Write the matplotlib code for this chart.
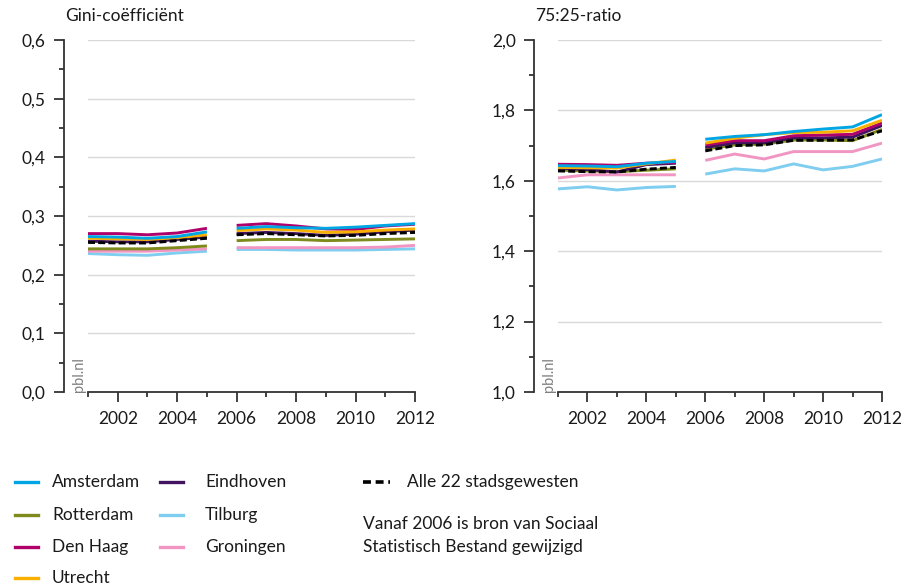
import matplotlib
matplotlib.use("Agg")
import matplotlib.pyplot as plt
from matplotlib.lines import Line2D
from matplotlib.ticker import FuncFormatter, MultipleLocator

plt.rcParams['font.family'] = ['Lato', 'DejaVu Sans']

years = [2001, 2002, 2003, 2004, 2005, 2006, 2007, 2008, 2009, 2010, 2011, 2012]
cities = ["Amsterdam", "Rotterdam", "Den Haag", "Utrecht", "Eindhoven", "Tilburg", "Groningen",
          "Alle 22 stadsgewesten"]

gini_amsterdam = [0.265, 0.264, 0.262, 0.265, 0.273, 0.279, 0.282, 0.280, 0.279, 0.281, 0.284, 0.287]
gini_rotterdam = [0.244, 0.244, 0.244, 0.246, 0.249, 0.258, 0.260, 0.260, 0.258, 0.259, 0.260, 0.261]
gini_denhaag = [0.270, 0.270, 0.268, 0.271, 0.279, 0.284, 0.287, 0.283, 0.278, 0.277, 0.283, 0.286]
gini_utrecht = [0.262, 0.261, 0.260, 0.263, 0.268, 0.275, 0.278, 0.276, 0.272, 0.273, 0.276, 0.278]
gini_eindhoven = [0.257, 0.256, 0.256, 0.260, 0.264, 0.270, 0.272, 0.270, 0.267, 0.269, 0.273, 0.276]
gini_tilburg = [0.236, 0.234, 0.233, 0.237, 0.240, 0.243, 0.243, 0.242, 0.242, 0.242, 0.243, 0.244]
gini_groningen = [0.240, 0.240, 0.240, 0.242, 0.244, 0.246, 0.246, 0.246, 0.246, 0.246, 0.247, 0.250]
gini_alle = [0.255, 0.254, 0.254, 0.258, 0.262, 0.268, 0.270, 0.268, 0.266, 0.267, 0.270, 0.272]

ratio_amsterdam = [1.643, 1.642, 1.640, 1.650, 1.655, 1.718, 1.726, 1.731, 1.740, 1.747, 1.753, 1.788]
ratio_rotterdam = [1.630, 1.628, 1.626, 1.630, 1.634, 1.690, 1.702, 1.704, 1.716, 1.716, 1.714, 1.746]
ratio_denhaag = [1.647, 1.646, 1.644, 1.650, 1.652, 1.702, 1.714, 1.714, 1.728, 1.730, 1.732, 1.764]
ratio_utrecht = [1.638, 1.637, 1.636, 1.648, 1.659, 1.707, 1.721, 1.731, 1.737, 1.738, 1.742, 1.772]
ratio_eindhoven = [1.636, 1.632, 1.625, 1.646, 1.650, 1.695, 1.708, 1.708, 1.722, 1.722, 1.724, 1.757]
ratio_tilburg = [1.577, 1.583, 1.574, 1.581, 1.584, 1.619, 1.634, 1.628, 1.648, 1.631, 1.641, 1.662]
ratio_groningen = [1.608, 1.617, 1.617, 1.617, 1.617, 1.658, 1.676, 1.662, 1.683, 1.683, 1.683, 1.707]
ratio_alle = [1.628, 1.626, 1.625, 1.633, 1.638, 1.685, 1.700, 1.702, 1.715, 1.715, 1.716, 1.742]

gini = [gini_amsterdam, gini_rotterdam, gini_denhaag, gini_utrecht, gini_eindhoven,
        gini_tilburg, gini_groningen, gini_alle]
ratio = [ratio_amsterdam, ratio_rotterdam, ratio_denhaag, ratio_utrecht, ratio_eindhoven,
         ratio_tilburg, ratio_groningen, ratio_alle]

colors = ["#00a6e3", "#7f8a1c", "#b0006a", "#f9b000", "#42145f", "#7fcdef", "#f196c2", "#000000"]
draw_order = [5, 6, 1, 4, 2, 3, 0, 7]
split = 5  # break in source after 2005

fig = plt.figure(figsize=(9.02, 5.88), dpi=100)
W, H = 902, 588
FS = 12.5


def make_axes(x0, x1, y0, y1):
    return fig.add_axes([x0 / W, 1 - y1 / H, (x1 - x0) / W, (y1 - y0) / H])


ax1 = make_axes(88, 415, 40, 392)
ax2 = make_axes(558, 882, 40, 392)

spine_col = "#333333"
fmt = FuncFormatter(lambda v, p: f"{v:.1f}".replace(".", ","))

for ax, data, (ymin, ymax, major, minor), title in [
        (ax1, gini, (0.0, 0.6, 0.1, 0.05), "Gini-coëfficiënt"),
        (ax2, ratio, (1.0, 2.0, 0.2, 0.1), "75:25-ratio")]:
    for i in draw_order:
        vals = data[i]
        kw = dict(color=colors[i], lw=2.1, solid_capstyle='butt')
        if i == 7:
            kw.update(ls=(0, (2.4, 1.1)), lw=2.1, zorder=5)
        ax.plot(years[:split], vals[:split], **kw)
        ax.plot(years[split:], vals[split:], **kw)
    ax.set_xlim(2001, 2012)
    ax.set_ylim(ymin, ymax)
    ax.yaxis.set_major_locator(MultipleLocator(major))
    ax.yaxis.set_minor_locator(MultipleLocator(minor))
    ax.yaxis.set_major_formatter(fmt)
    ax.xaxis.set_minor_locator(MultipleLocator(1))
    ax.set_xticks([2002, 2004, 2006, 2008, 2010, 2012])
    for sp in ["top", "right"]:
        ax.spines[sp].set_visible(False)
    ax.spines["left"].set_position(("outward", 17.5))
    for sp in ["left", "bottom"]:
        ax.spines[sp].set_color(spine_col)
        ax.spines[sp].set_linewidth(1.3)
    ax.tick_params(axis="both", which="major", length=7, width=1.3, color=spine_col,
                   labelsize=FS, labelcolor="#1a1a1a")
    ax.tick_params(axis="both", which="minor", length=3.5, width=1.3, color=spine_col)
    ax.tick_params(axis="x", which="major", pad=7)
    ax.tick_params(axis="y", which="major", pad=6)
    ax.grid(axis="y", which="major", color="#d9d9d9", lw=1.0)
    ax.set_axisbelow(True)
    ax.text(-0.07, 1.045, title, transform=ax.transAxes, fontsize=FS, color="#1a1a1a",
            ha="left", va="bottom")
    ax.text(-0.05, 0.0, "pbl.nl", transform=ax.transAxes, fontsize=10.5, color="#808080",
            rotation=90, ha="left", va="bottom")

# legend
rows = [482, 515, 547, 578]
entries = [
    (0, 15, 38, 52, rows[0]), (1, 15, 38, 52, rows[1]), (2, 15, 38, 52, rows[2]), (3, 15, 38, 52, rows[3]),
    (4, 160, 183, 205, rows[0]), (5, 160, 183, 205, rows[1]), (6, 160, 183, 205, rows[2]),
    (7, 363, 390, 407, rows[0]),
]
for i, lx0, lx1, tx, y in entries:
    yy = 1 - y / H
    kw = dict(color=colors[i], lw=2.4)
    if i == 7:
        kw.update(ls=(0, (2.2, 1.3)), lw=2.6)
    fig.add_artist(Line2D([lx0 / W, lx1 / W], [yy, yy], transform=fig.transFigure, **kw))
    fig.text(tx / W, yy, cities[i], fontsize=FS, color="#1a1a1a", ha="left", va="center")

fig.text(363 / W, 1 - 524 / H, "Vanaf 2006 is bron van Sociaal", fontsize=FS,
         color="#1a1a1a", ha="left", va="center")
fig.text(363 / W, 1 - 547 / H, "Statistisch Bestand gewijzigd", fontsize=FS,
         color="#1a1a1a", ha="left", va="center")

fig.savefig("out.png", dpi=100)
